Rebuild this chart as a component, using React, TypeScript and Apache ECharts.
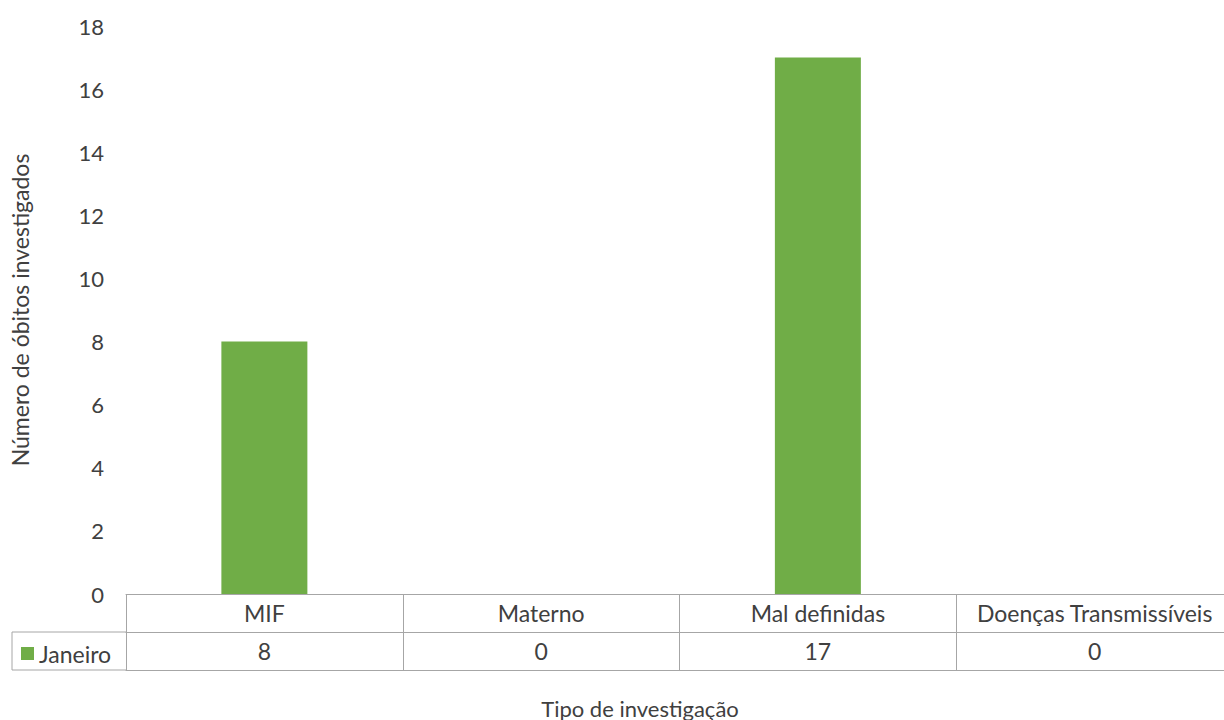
import React, { useEffect, useRef } from "react";
import * as echarts from "echarts";

const categories = ["MIF", "Materno", "Mal definidas", "Doenças Transmissíveis"];
const janeiro = [8, 0, 17, 0];
const seriesName = "Janeiro";
const yTitle = "Número de óbitos investigados";
const xTitle = "Tipo de investigação";

const FONT = "Lato";
const FS = 23;
const TEXT = "#404040";
const LINE = "#a6a6a6";
const GREEN = "#70ad47";

export default function App() {
  const ref = useRef<HTMLDivElement>(null);
  useEffect(() => {
    if (!ref.current) return;
    const chart = echarts.init(ref.current, undefined, { renderer: "svg" });
    const gridLeft = 126;
    const axisY = 594;
    const row = 38;
    chart.setOption({
      animation: false,
      textStyle: { fontFamily: FONT },
      grid: {
        left: gridLeft,
        top: 26,
        width: 1107,
        bottom: 720 - axisY,
        containLabel: false,
        outerBoundsMode: "none",
      },
      yAxis: {
        type: "value",
        min: 0,
        max: 18,
        interval: 2,
        name: yTitle,
        nameLocation: "middle",
        nameRotate: 90,
        nameGap: 95,
        nameTextStyle: { fontSize: FS, color: TEXT, fontFamily: FONT },
        axisLine: { show: false },
        axisTick: { show: false },
        splitLine: { show: false },
        axisLabel: { fontSize: FS - 1, color: TEXT, margin: 22, fontFamily: FONT },
      },
      xAxis: [
        {
          type: "category",
          data: categories,
          position: "bottom",
          axisLine: { show: true, lineStyle: { color: LINE, width: 1 } },
          axisTick: { show: true, length: row * 2, interval: 0, lineStyle: { color: LINE } },
          axisLabel: { fontSize: FS, color: TEXT, margin: 7, interval: 0, fontFamily: FONT },
        },
        {
          type: "category",
          data: categories,
          position: "bottom",
          offset: row,
          axisLine: { show: true, lineStyle: { color: LINE, width: 1 } },
          axisTick: { show: false },
          axisLabel: {
            fontSize: FS,
            color: TEXT,
            margin: 7,
            interval: 0,
            fontFamily: FONT,
            formatter: (_v: string, i: number) => String(janeiro[i]),
          },
        },
        {
          type: "category",
          data: categories,
          position: "bottom",
          offset: row * 2,
          axisLine: { show: true, lineStyle: { color: LINE, width: 1 } },
          axisTick: { show: false },
          axisLabel: { show: false },
        },
      ],
      legend: {
        left: 16,
        top: axisY + row + 5,
        itemWidth: 13,
        itemHeight: 13,
        itemGap: 4,
        icon: "rect",
        textStyle: { fontSize: FS, color: TEXT, fontFamily: FONT },
        data: [seriesName],
      },
      graphic: [
        {
          type: "polyline",
          shape: {
            points: [
              [gridLeft, axisY + row],
              [12, axisY + row],
              [12, axisY + row * 2],
              [gridLeft, axisY + row * 2],
            ],
          },
          style: { stroke: LINE, fill: "none", lineWidth: 1 },
        },
        {
          type: "text",
          x: 640,
          y: 708,
          style: {
            text: xTitle,
            fontSize: FS - 1,
            fontFamily: FONT,
            fill: TEXT,
            align: "center",
            verticalAlign: "middle",
          },
        },
      ],
      series: [
        {
          name: seriesName,
          type: "bar",
          data: janeiro,
          barWidth: 86,
          itemStyle: { color: GREEN },
        },
      ],
    });
    return () => chart.dispose();
  }, []);
  return (
    <div
      ref={ref}
      style={{ position: "absolute", left: 0, top: 0, width: 1224, height: 720 }}
    />
  );
}
